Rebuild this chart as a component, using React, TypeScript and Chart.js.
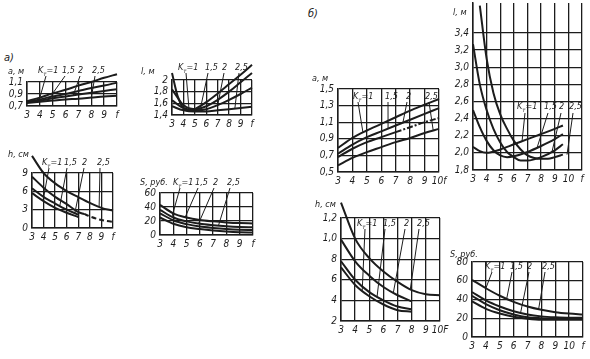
import React, { useEffect, useRef } from "react";
import { Chart, registerables } from "chart.js";
Chart.register(...registerables);

const INK = "#1c1c1c";
const FONT_FAMILY = '"DejaVu Sans Condensed", "Liberation Sans Narrow", "DejaVu Sans", sans-serif';

// ---------- shared labels ----------
const KT_VALUES = ["1", "1,5", "2", "2,5"];
const F_3_10 = [3, 4, 5, 6, 7, 8, 9, 10];
const F_3_11 = [3, 4, 5, 6, 7, 8, 9, 10, 11];
const X_LABELS_A = ["3", "4", "5", "6", "7", "8", "9", "f"];
const X_LABELS_B1 = ["3", "4", "5", "6", "7", "8", "9", "10f"];
const X_LABELS_B3 = ["3", "4", "5", "6", "7", "8", "9", "10F"];
const X_LABELS_WIDE = ["3", "4", "5", "6", "7", "8", "9", "10", "f"];

// ---------- а) a, м ----------
const A1_Y_TICKS = [0.7, 0.9, 1.1];
const A1_Y_LABELS = ["0,7", "0,9", "1,1"];
const A1_K1 = [0.78, 0.84, 0.91, 0.97, 1.04, 1.1, 1.17, 1.23];
const A1_K15 = [0.77, 0.81, 0.86, 0.9, 0.95, 1.0, 1.04, 1.09];
const A1_K2 = [0.76, 0.79, 0.83, 0.86, 0.89, 0.92, 0.95, 0.98];
const A1_K25 = [0.75, 0.77, 0.79, 0.81, 0.82, 0.84, 0.86, 0.87];

// ---------- а) l, м ----------
const A2_Y_TICKS = [1.4, 1.6, 1.8, 2.0];
const A2_Y_LABELS = ["1,4", "1,6", "1,8", "2"];
const A2_K1_F = [3, 3.5, 4, 4.5, 5, 6, 7, 8, 9, 10];
const A2_K1 = [2.12, 1.72, 1.52, 1.47, 1.5, 1.62, 1.77, 1.93, 2.09, 2.26];
const A2_K15 = [1.84, 1.57, 1.5, 1.55, 1.66, 1.8, 1.96, 2.12];
const A2_K2 = [1.65, 1.52, 1.48, 1.5, 1.57, 1.66, 1.76, 1.87];
const A2_K25 = [1.55, 1.48, 1.46, 1.46, 1.48, 1.5, 1.52, 1.54];

// ---------- а) h, см ----------
const A3_Y_TICKS = [0, 3, 6, 9];
const A3_Y_LABELS = ["0", "3", "6", "9"];
const A3_K1 = [11.8, 9.0, 7.3, 6.05, 5.05, 4.1, 3.3, 2.85];
const A3_K15_F = [3, 4, 5, 6, 7, 7.5];
const A3_K15 = [8.4, 6.6, 5.1, 3.9, 2.6, 2.3];
const A3_K2_F = [3, 4, 5, 6, 7];
const A3_K2 = [6.5, 5.1, 4.0, 3.0, 2.2];
const A3_K25 = [5.7, 4.4, 3.3, 2.5, 1.8];
const A3_TAIL_F = [7.5, 8, 9, 10];
const A3_TAIL = [2.3, 1.9, 1.3, 1.0];

// ---------- а) S, руб. ----------
const A4_Y_TICKS = [0, 20, 40, 60];
const A4_Y_LABELS = ["0", "20", "40", "60"];
const A4_K1 = [43, 31, 25, 21.5, 19.5, 18, 17, 16.5];
const A4_K15 = [36, 25, 19.5, 16, 14, 12.5, 11.5, 11];
const A4_K2 = [31, 21, 15.5, 12, 10, 8.5, 7.5, 7];
const A4_K25 = [25, 16, 11, 8.5, 6.5, 5, 4, 3.5];

// ---------- б) a, м ----------
const B1_Y_TICKS = [0.5, 0.7, 0.9, 1.1, 1.3, 1.5];
const B1_Y_LABELS = ["0,5", "0,7", "0,9", "1,1", "1,3", "1,5"];
const B1_K1 = [0.79, 0.91, 1.0, 1.08, 1.16, 1.24, 1.31, 1.38];
const B1_K15 = [0.72, 0.83, 0.92, 0.99, 1.06, 1.13, 1.2, 1.27];
const B1_K2 = [0.68, 0.78, 0.86, 0.92, 0.98, 1.04, 1.1, 1.15];
const B1_K25 = [0.58, 0.67, 0.74, 0.8, 0.86, 0.91, 0.97, 1.02];

// ---------- б) l, м ----------
const B2_Y_TICKS = [1.8, 2.0, 2.2, 2.4, 2.6, 2.8, 3.0, 3.2, 3.4];
const B2_Y_LABELS = ["1,8", "2,0", "2,2", "2,4", "2,6", "2,8", "3,0", "3,2", "3,4"];
const B2_K1_F = [3, 3.5, 4, 5, 6, 7, 8, 9, 9.6];
const B2_K1 = [2.07, 2.02, 2.0, 2.04, 2.1, 2.16, 2.22, 2.28, 2.32];
const B2_K15_F = [3, 3.5, 4, 4.5, 5, 5.5, 6, 7, 8, 9, 9.6];
const B2_K15 = [2.5, 2.3, 2.14, 2.03, 1.97, 1.95, 1.96, 2.01, 2.08, 2.16, 2.22];
const B2_K2_F = [3, 3.5, 4, 4.5, 5, 5.5, 6, 6.5, 7, 8, 9, 9.6];
const B2_K2 = [3.27, 2.8, 2.5, 2.28, 2.12, 2.01, 1.95, 1.91, 1.91, 1.95, 2.03, 2.1];
const B2_K25_F = [3.5, 4, 4.5, 5, 5.5, 6, 6.5, 7, 7.5, 8, 8.5, 9, 9.6];
const B2_K25 = [3.72, 3.1, 2.7, 2.45, 2.28, 2.14, 2.04, 1.97, 1.94, 1.93, 1.93, 1.95, 1.98];

// ---------- б) h, см ----------
const B3_Y_TICKS = [2, 4, 6, 8, 10, 12];
const B3_Y_LABELS = ["2", "4", "6", "8", "1,0", "1,2"];
const B3_K1 = [13.5, 10.0, 8.1, 6.8, 5.8, 5.0, 4.6, 4.5];
const B3_SHORT_F = [3, 4, 5, 6, 7, 8];
const B3_K15 = [9.9, 7.8, 6.4, 5.3, 4.5, 3.9];
const B3_K2 = [7.8, 6.0, 4.8, 4.0, 3.4, 3.15];
const B3_K25 = [7.2, 5.5, 4.4, 3.6, 3.05, 2.9];

// ---------- б) S, руб. ----------
const B4_Y_TICKS = [0, 20, 40, 60, 80];
const B4_Y_LABELS = ["0", "20", "40", "60", "80"];
const B4_K1 = [61, 52, 44, 37.5, 32.5, 29, 26.5, 25, 24];
const B4_K15 = [48, 39, 32.5, 27.5, 24, 22, 21, 20.5, 20.5];
const B4_K2 = [44, 35, 28.5, 24, 21, 20, 19.5, 19.5, 19.5];
const B4_K25 = [38, 30, 25, 21.5, 19.5, 18.5, 18.5, 18.5, 18.5];

type Series = { xs: number[]; ys: number[]; dash?: number[]; dashFrom?: number };
type Spec = {
  box: [number, number, number, number];
  pad: [number, number, number, number];
  x: { min: number; max: number; ticks: number[]; labels: string[] };
  y: { min: number; max: number; ticks: number[]; labels: string[] };
  series: Series[];
  title: { text: string; dx: number; dy: number };
  kDx: number[];
  kDy: number;
  leaders: [number, number, number, number][];
};

const SPECS: Spec[] = [
  {
    box: [27, 82, 117, 106], pad: [27, 32, 14, 18],
    x: { min: 3, max: 10, ticks: F_3_10, labels: X_LABELS_A },
    y: { min: 0.7, max: 1.1, ticks: A1_Y_TICKS, labels: A1_Y_LABELS },
    series: [
      { xs: F_3_10, ys: A1_K1 }, { xs: F_3_10, ys: A1_K15 },
      { xs: F_3_10, ys: A1_K2 }, { xs: F_3_10, ys: A1_K25 },
    ],
    title: { text: "a, м", dx: -19, dy: -10 },
    kDx: [11, 35, 51, 65], kDy: -11,
    leaders: [[19, -6, 0, 4.0], [38, -6, 1, 4.8], [53, -6, 2, 6.6], [68, -6, 3, 8.0]],
  },
  {
    box: [172, 80, 252, 115], pad: [34, 32, 14, 18],
    x: { min: 3, max: 10, ticks: F_3_10, labels: X_LABELS_A },
    y: { min: 1.4, max: 2.0, ticks: A2_Y_TICKS, labels: A2_Y_LABELS },
    series: [
      { xs: A2_K1_F, ys: A2_K1 }, { xs: F_3_10, ys: A2_K15 },
      { xs: F_3_10, ys: A2_K2 }, { xs: F_3_10, ys: A2_K25 },
    ],
    title: { text: "l, м", dx: -31, dy: -8 },
    kDx: [6, 33, 50, 63], kDy: -12,
    leaders: [[14, -7, 0, 4.5], [36, -7, 1, 5.5], [52, -7, 2, 7], [67, -7, 3, 8.5]],
  },
  {
    box: [32, 173, 113, 228], pad: [32, 30, 14, 18],
    x: { min: 3, max: 10, ticks: F_3_10, labels: X_LABELS_A },
    y: { min: 0, max: 9, ticks: A3_Y_TICKS, labels: A3_Y_LABELS },
    series: [
      { xs: F_3_10, ys: A3_K1 }, { xs: A3_K15_F, ys: A3_K15 },
      { xs: A3_K2_F, ys: A3_K2 }, { xs: A3_K2_F, ys: A3_K25 },
      { xs: A3_TAIL_F, ys: A3_TAIL, dash: [5, 3] },
    ],
    title: { text: "h, см", dx: -24, dy: -18 },
    kDx: [10, 32, 50, 65], kDy: -10,
    leaders: [[17, -5, 3, 3.95], [35, -5, 2, 5.4], [52, -5, 2, 6.7], [68, -5, 0, 8.8]],
  },
  {
    box: [160, 193, 253, 235], pad: [32, 30, 14, 18],
    x: { min: 3, max: 10, ticks: F_3_10, labels: X_LABELS_A },
    y: { min: 0, max: 60, ticks: A4_Y_TICKS, labels: A4_Y_LABELS },
    series: [
      { xs: F_3_10, ys: A4_K1 }, { xs: F_3_10, ys: A4_K15 },
      { xs: F_3_10, ys: A4_K2 }, { xs: F_3_10, ys: A4_K25 },
    ],
    title: { text: "S, руб.", dx: -20, dy: -10 },
    kDx: [13, 35, 53, 67], kDy: -10,
    leaders: [[20, -5, 1, 3.9], [38, -5, 0, 4.9], [54, -5, 1, 5.9], [70, -5, 1, 7.4]],
  },
  {
    box: [338, 89, 439, 172], pad: [30, 30, 14, 18],
    x: { min: 3, max: 10, ticks: F_3_10, labels: X_LABELS_B1 },
    y: { min: 0.5, max: 1.5, ticks: B1_Y_TICKS, labels: B1_Y_LABELS },
    series: [
      { xs: F_3_10, ys: B1_K1 }, { xs: F_3_10, ys: B1_K15 },
      { xs: F_3_10, ys: B1_K2, dashFrom: 6.5 }, { xs: F_3_10, ys: B1_K25 },
    ],
    title: { text: "a, м", dx: -26, dy: -10 },
    kDx: [15, 47, 68, 87], kDy: 8,
    leaders: [[20, 13, 0, 4.73], [50, 13, 1, 6.47], [69, 13, 1, 7.5], [91, 13, 3, 9.6]],
  },
  {
    box: [473, 3, 582, 170], pad: [30, 10, 10, 18],
    x: { min: 3, max: 11, ticks: F_3_11, labels: X_LABELS_WIDE },
    y: { min: 1.8, max: 3.75, ticks: B2_Y_TICKS, labels: B2_Y_LABELS },
    series: [
      { xs: B2_K1_F, ys: B2_K1 }, { xs: B2_K15_F, ys: B2_K15 },
      { xs: B2_K2_F, ys: B2_K2 }, { xs: B2_K25_F, ys: B2_K25 },
    ],
    title: { text: "l, м", dx: -20, dy: 10 },
    kDx: [44, 71, 86, 96], kDy: 104,
    leaders: [[52, 110, 0, 6.6], [75, 110, 1, 7.7], [88, 110, 2, 8.8], [100, 110, 3, 9.9]],
  },
  {
    box: [341, 218, 440, 321], pad: [30, 20, 14, 18],
    x: { min: 3, max: 10, ticks: F_3_10, labels: X_LABELS_B3 },
    y: { min: 2, max: 12, ticks: B3_Y_TICKS, labels: B3_Y_LABELS },
    series: [
      { xs: F_3_10, ys: B3_K1 }, { xs: B3_SHORT_F, ys: B3_K15 },
      { xs: B3_SHORT_F, ys: B3_K2 }, { xs: B3_SHORT_F, ys: B3_K25 },
    ],
    title: { text: "h, см", dx: -26, dy: -13 },
    kDx: [16, 42, 63, 76], kDy: 6,
    leaders: [[24, 11, 3, 4.5], [44, 11, 2, 5.55], [64, 11, 1, 6.7], [78, 11, 0, 7.9]],
  },
  {
    box: [472, 262, 583, 337], pad: [30, 14, 7, 20],
    x: { min: 3, max: 11, ticks: F_3_11, labels: X_LABELS_WIDE },
    y: { min: 0, max: 80, ticks: B4_Y_TICKS, labels: B4_Y_LABELS },
    series: [
      { xs: F_3_11, ys: B4_K1 }, { xs: F_3_11, ys: B4_K15 },
      { xs: F_3_11, ys: B4_K2 }, { xs: F_3_11, ys: B4_K25 },
    ],
    title: { text: "S, руб.", dx: -22, dy: -7 },
    kDx: [13, 38, 55, 70], kDy: 5,
    leaders: [[20, 10, 0, 4.0], [40, 10, 0, 5.5], [57, 10, 1, 6.5], [73, 10, 0, 7.8]],
  },
];

function interp(xs: number[], ys: number[], f: number) {
  if (f <= xs[0]) return ys[0];
  for (let i = 1; i < xs.length; i++) {
    if (f <= xs[i]) {
      const t = (f - xs[i - 1]) / (xs[i] - xs[i - 1]);
      return ys[i - 1] + t * (ys[i] - ys[i - 1]);
    }
  }
  return ys[ys.length - 1];
}

const annotPlugin = {
  id: "annot",
  afterDatasetsDraw(chart: any, _args: any, opts: any) {
    const spec: Spec = opts.spec;
    if (!spec) return;
    const { ctx, chartArea: a } = chart;
    const xs = chart.scales.x, ys = chart.scales.y;
    ctx.save();
    ctx.strokeStyle = INK;
    ctx.fillStyle = INK;
    ctx.lineWidth = 1;
    for (const L of spec.leaders) {
      const s = spec.series[L[2]];
      const v = interp(s.xs, s.ys, L[3]);
      ctx.beginPath();
      ctx.moveTo(a.left + L[0], a.top + L[1]);
      ctx.lineTo(xs.getPixelForValue(L[3]), ys.getPixelForValue(v));
      ctx.stroke();
    }
    ctx.textBaseline = "middle";
    ctx.textAlign = "left";
    const big = `italic 9px ${FONT_FAMILY}`;
    const small = `italic 6px ${FONT_FAMILY}`;
    // title
    ctx.font = big;
    ctx.fillText(spec.title.text, a.left + spec.title.dx, a.top + spec.title.dy);
    // K labels
    KT_VALUES.forEach((val, i) => {
      let px = a.left + spec.kDx[i];
      const py = a.top + spec.kDy;
      if (i === 0) {
        ctx.font = big;
        ctx.fillText("K", px, py);
        px += ctx.measureText("K").width;
        ctx.font = small;
        ctx.fillText("т", px, py + 3);
        px += ctx.measureText("т").width;
        ctx.font = big;
        ctx.fillText("=" + val, px, py);
      } else {
        ctx.font = big;
        ctx.fillText(val, px, py);
      }
    });
    ctx.restore();
  },
};

function SmallChart({ spec }: { spec: Spec }) {
  const ref = useRef<HTMLCanvasElement>(null);
  const [l, t, r, b] = spec.box;
  const [pl, pt, pr, pb] = spec.pad;
  const W = r - l + pl + pr;
  const H = b - t + pt + pb;
  useEffect(() => {
    const font = { family: FONT_FAMILY, size: 10, style: "italic" as const };
    const gridOpts = { color: INK, lineWidth: 1.3, drawTicks: false };
    const chart = new Chart(ref.current!, {
      type: "line",
      data: {
        datasets: spec.series.map((s) => ({
          data: s.xs.map((x, i) => ({ x, y: s.ys[i] })),
          borderColor: INK,
          borderWidth: 2,
          pointRadius: 0,
          cubicInterpolationMode: "monotone",
          fill: false,
          clip: false,
          borderDash: s.dash || [],
          segment:
            s.dashFrom != null
              ? { borderDash: (c: any) => (c.p0.parsed.x >= (s.dashFrom as number) ? [6, 2, 2, 2] : undefined) }
              : undefined,
        })) as any,
      },
      options: {
        responsive: false,
        animation: false,
        devicePixelRatio: 1,
        layout: { padding: { left: 0, top: pt, right: pr, bottom: 0 } },
        plugins: {
          legend: { display: false },
          tooltip: { enabled: false },
          annot: { spec },
        } as any,
        scales: {
          x: {
            type: "linear",
            min: spec.x.min,
            max: spec.x.max,
            afterBuildTicks: (sc: any) => {
              sc.ticks = spec.x.ticks.map((v) => ({ value: v }));
            },
            afterFit: (sc: any) => {
              sc.height = pb;
            },
            ticks: {
              autoSkip: false,
              maxRotation: 0,
              padding: 3,
              color: INK,
              font,
              callback: (_v: any, i: number) => spec.x.labels[i],
            },
            grid: gridOpts,
            border: { display: true, color: INK, width: 1.5 },
          },
          y: {
            type: "linear",
            min: spec.y.min,
            max: spec.y.max,
            afterBuildTicks: (sc: any) => {
              sc.ticks = spec.y.ticks.map((v) => ({ value: v }));
            },
            afterFit: (sc: any) => {
              sc.width = pl;
            },
            ticks: {
              autoSkip: false,
              padding: 4,
              color: INK,
              font,
              callback: (_v: any, i: number) => spec.y.labels[i],
            },
            grid: gridOpts,
            border: { display: true, color: INK, width: 1.5 },
          },
        },
      } as any,
      plugins: [annotPlugin],
    });
    return () => chart.destroy();
  }, []);
  return (
    <canvas
      ref={ref}
      width={W}
      height={H}
      style={{ position: "absolute", left: l - pl, top: t - pt, width: W, height: H }}
    />
  );
}

export default function App() {
  const panelStyle: React.CSSProperties = {
    position: "absolute",
    fontFamily: FONT_FAMILY,
    fontStyle: "italic",
    fontSize: 11,
    color: INK,
    lineHeight: "12px",
  };
  return (
    <div
      style={{
        position: "fixed",
        left: 0,
        top: 0,
        width: 590,
        height: 359,
        background: "#fff",
        overflow: "hidden",
      }}
    >
      <span style={{ ...panelStyle, left: 4, top: 52 }}>а)</span>
      <span style={{ ...panelStyle, left: 308, top: 8 }}>б)</span>
      {SPECS.map((s, i) => (
        <SmallChart key={i} spec={s} />
      ))}
    </div>
  );
}
